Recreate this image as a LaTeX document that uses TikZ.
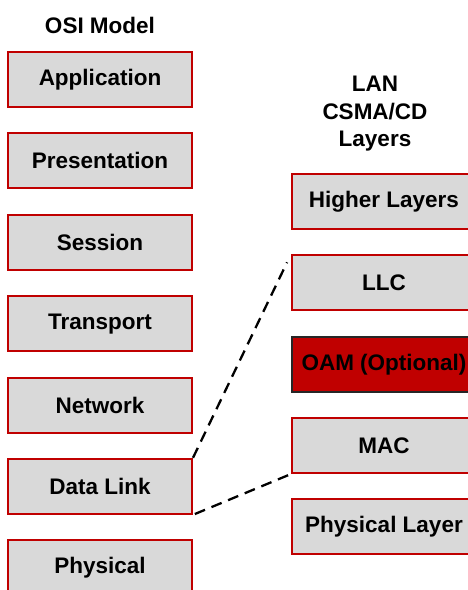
\documentclass[tikz,border=0pt]{standalone}
\usepackage{fontspec}
\setmainfont{Liberation Sans}
\definecolor{boxgray}{HTML}{D9D9D9}
\definecolor{boxred}{HTML}{C00000}
\tikzset{
  layer/.style={draw=boxred, line width=2pt, fill=boxgray, minimum width=184pt, minimum height=55pt, inner sep=0pt,
    font=\bfseries\fontsize{22.5}{27}\selectfont, text=black},
  oam/.style={layer, draw=black!85, line width=1.5pt, fill=boxred},
  title/.style={font=\bfseries\fontsize{22.5}{27.5}\selectfont, align=center, inner sep=0pt},
  link/.style={dashed, dash pattern=on 11pt off 7pt, line width=2.3pt, black}
}
\begin{document}
\begin{tikzpicture}[x=1pt,y=-1pt]
\useasboundingbox (0,0) rectangle (468,590);
\clip (0,0) rectangle (468,590);
\node[title] (osi) at (100,25) {OSI Model};
\node[layer] (app) at (100,79.5) {Application};
\node[layer] (pres) at (100,160.9) {Presentation};
\node[layer] (sess) at (100,242.3) {Session};
\node[layer] (trans) at (100,323.7) {Transport};
\node[layer] (net) at (100,405.1) {Network};
\node[layer] (dl) at (100,486.3) {Data Link};
\node[layer] (phys) at (100,567.7) {Physical};
\node[title] (lan) at (375,114) {LAN\\CSMA/CD\\Layers};
\node[layer] (hl) at (384,201.5) {Higher Layers};
\node[layer] (llc) at (384,282.7) {LLC};
\node[oam] (oamn) at (384,364.3) {OAM (Optional)};
\node[layer] (mac) at (384,445.5) {MAC};
\node[layer] (pl) at (384,526.7) {Physical Layer};
\draw[link, shorten >=9pt] (dl.north east) -- (llc.north west);
\draw[link, shorten <=2pt, shorten >=2pt] (dl.south east) -- (mac.south west);
\end{tikzpicture}
\end{document}
